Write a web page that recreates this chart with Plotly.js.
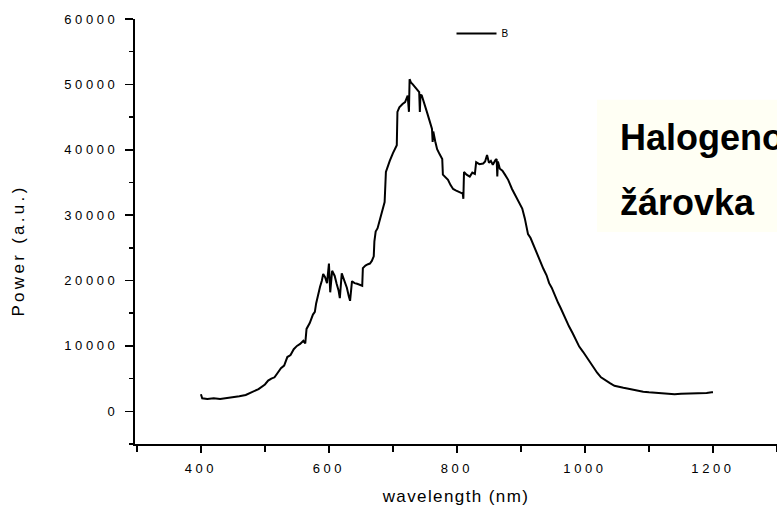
<!DOCTYPE html>
<html>
<head>
<meta charset="utf-8">
<script src="https://cdn.plot.ly/plotly-3.0.1.min.js"></script>
<style>
  html, body { margin: 0; padding: 0; background: #ffffff; }
  #chart { width: 777px; height: 513px; }
  .xtick text, .ytick text { letter-spacing: 3.6px; }
  .g-xtitle text { letter-spacing: 1.4px; }
  g.annotation[data-index="0"] text { letter-spacing: 3.3px; }
</style>
</head>
<body>
<div id="chart"></div>
<script>
// Halogen lamp spectrum
const wavelength = [
  400, 402, 410, 420, 430, 440, 450, 460, 470, 480,
  490, 500, 505, 510, 515, 520, 525, 530, 535, 540,
  545, 550, 555, 560, 563, 565, 570, 575, 578, 580,
  583, 586, 589, 591, 594, 597, 600, 602, 605, 609,
  612, 615, 617, 620, 624, 628, 631, 633, 636, 640,
  644, 648, 652, 653, 657, 661, 664, 667, 670, 671,
  673, 676, 680, 684, 687, 689, 692, 695, 700, 703,
  706, 707, 710, 715, 719, 723, 725, 726, 728, 731,
  735, 738, 741, 742, 743, 745, 748, 751, 753, 757,
  761, 762, 763, 766, 769, 773, 777, 778, 782, 786,
  790, 794, 798, 802, 806, 809, 810, 811, 815, 820,
  824, 828, 830, 835, 841, 844, 847, 850, 853, 856,
  860, 862, 863, 864, 867, 871, 875, 880, 886, 890,
  894, 898, 902, 906, 911, 915, 920, 925, 930, 935,
  940, 944, 948, 953, 958, 962, 966, 970, 975, 981,
  986, 991, 997, 1003, 1008, 1013, 1019, 1025, 1032, 1039,
  1046, 1053, 1060, 1066, 1075, 1083, 1091, 1100, 1110, 1120,
  1128, 1140, 1150, 1159, 1170, 1180, 1190, 1198, 1200
];
const power = [
  2600, 2000, 1900, 2000, 1900, 2000, 2100, 2300, 2500, 2900,
  3400, 4100, 4700, 5000, 5200, 5900, 6600, 7000, 8300, 8600,
  9500, 10000, 10300, 10800, 10400, 12600, 13500, 14800, 15200, 16500,
  17900, 19000, 20000, 21000, 20500, 19600, 22600, 18200, 21500, 20700,
  19500, 18500, 17300, 21100, 20000, 18900, 17600, 16900, 19900, 19600,
  19500, 19300, 19200, 21900, 22300, 22500, 22600, 23000, 23700, 26000,
  27500, 28000, 29500, 31000, 32000, 36600, 37500, 38300, 39500, 40100,
  40700, 45800, 46500, 47000, 47300, 48300, 45800, 50800, 50300, 50000,
  49500, 49200, 48800, 45800, 48400, 48300, 47200, 46200, 45800, 44500,
  43200, 41200, 42800, 41300, 40100, 39300, 38600, 36200, 35800, 35400,
  34600, 34000, 33800, 33600, 33500, 33300, 32500, 36600, 36200, 35900,
  36500, 36300, 38100, 37800, 37900, 38200, 39200, 38000, 38300, 37700,
  38400, 38600, 35900, 38200, 37100, 36800, 36200, 35400, 34000, 33200,
  32500, 31600, 31000, 29500, 27100, 26500, 25300, 24000, 23000, 21800,
  20800, 19600, 18900, 17600, 16600, 15800, 14900, 14000, 13000, 11900,
  10800, 9900, 9100, 8200, 7400, 6600, 5900, 5200, 4700, 4300,
  3900, 3700, 3600, 3500, 3300, 3100, 3000, 2900, 2800, 2700,
  2700, 2600, 2700, 2700, 2700, 2800, 2800, 2900, 2900
];
const seriesName = "B";
const xTickVals = [400, 600, 800, 1000, 1200];
const xTickText = ["400", "600", "800", "1000", "1200"];
const yTickVals = [0, 10000, 20000, 30000, 40000, 50000, 60000];
const yTickText = ["0", "10000", "20000", "30000", "40000", "50000", "60000"];
const xTitle = "wavelength (nm)";
const yTitle = "Power (a.u.)";
const noteLine1 = "Halogenová";
const noteLine2 = "žárovka";

const FONT = "Liberation Sans, Arial, sans-serif";

const trace = {
  x: wavelength,
  y: power,
  type: "scatter",
  mode: "lines",
  name: seriesName,
  line: { color: "#000000", width: 2 },
  hoverinfo: "skip"
};

const layout = {
  width: 777,
  height: 513,
  margin: { l: 135, r: 0, t: 19, b: 69, pad: 0 },
  paper_bgcolor: "#ffffff",
  plot_bgcolor: "#ffffff",
  font: { family: FONT, color: "#000000" },
  showlegend: true,
  legend: {
    x: 0.493, xanchor: "left",
    y: 1.0, yanchor: "top",
    bgcolor: "rgba(0,0,0,0)",
    borderwidth: 0,
    itemwidth: 40,
    font: { size: 10, family: FONT, color: "#000000" }
  },
  xaxis: {
    range: [297, 1300],
    tickmode: "array",
    tickvals: xTickVals,
    ticktext: xTickText,
    ticks: "outside",
    ticklen: 7,
    tickwidth: 1.5,
    tickcolor: "#000000",
    ticklabelstandoff: 4,
    showline: true,
    linecolor: "#000000",
    linewidth: 2,
    showgrid: false,
    zeroline: false,
    tickfont: { size: 13, family: FONT, color: "#000000" },
    minor: { dtick: 100, tick0: 300, ticks: "outside", ticklen: 6, tickwidth: 1.5, tickcolor: "#000000", showgrid: false },
    title: { text: xTitle, font: { size: 17, family: FONT, color: "#000000" }, standoff: 16 }
  },
  yaxis: {
    range: [-5000, 60000],
    tickmode: "array",
    tickvals: yTickVals,
    ticktext: yTickText,
    ticks: "outside",
    ticklen: 8,
    tickwidth: 1.5,
    tickcolor: "#000000",
    ticklabelstandoff: 4,
    showline: true,
    linecolor: "#000000",
    linewidth: 2,
    showgrid: false,
    zeroline: false,
    tickfont: { size: 13, family: FONT, color: "#000000" },
    minor: { dtick: 5000, tick0: 0, ticks: "outside", ticklen: 4, tickwidth: 1.5, tickcolor: "#000000", showgrid: false }
  },
  shapes: [
    {
      type: "rect", xref: "paper", yref: "paper",
      x0: 0.7196, x1: 1.05, y0: 0.499, y1: 0.81,
      fillcolor: "#fffff4", line: { width: 0 }, layer: "below"
    }
  ],
  annotations: [
    {
      text: yTitle, xref: "paper", yref: "paper",
      x: -0.182, y: 0.455, xanchor: "center", yanchor: "middle",
      textangle: -90, showarrow: false,
      font: { size: 17, family: FONT, color: "#000000" }
    },
    {
      text: "<b>" + noteLine1 + "</b>", xref: "paper", yref: "paper",
      x: 0.7523, y: 0.7213, xanchor: "left", yanchor: "middle",
      showarrow: false,
      font: { size: 36, family: FONT, color: "#000000" }
    },
    {
      text: "<b>" + noteLine2 + "</b>", xref: "paper", yref: "paper",
      x: 0.7523, y: 0.569, xanchor: "left", yanchor: "middle",
      showarrow: false,
      font: { size: 36, family: FONT, color: "#000000" }
    }
  ]
};

Plotly.newPlot("chart", [trace], layout, { displayModeBar: false, staticPlot: true });
</script>
</body>
</html>
